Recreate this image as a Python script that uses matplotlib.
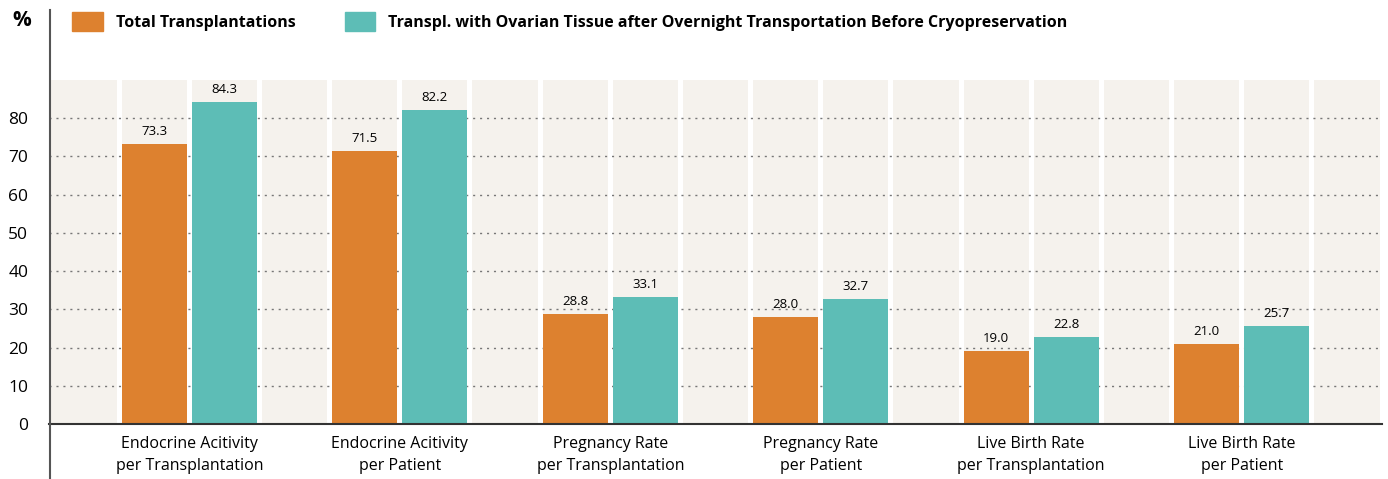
import numpy as np
import matplotlib.pyplot as plt
from matplotlib.patches import Patch
from matplotlib.lines import Line2D

plt.rcParams['font.family'] = ['Open Sans', 'DejaVu Sans']

categories = ["Endocrine Acitivity\nper Transplantation", "Endocrine Acitivity\nper Patient",
              "Pregnancy Rate\nper Transplantation", "Pregnancy Rate\nper Patient",
              "Live Birth Rate\nper Transplantation", "Live Birth Rate\nper Patient"]
total = [73.3, 71.5, 28.8, 28.0, 19.0, 21.0]
overnight = [84.3, 82.2, 33.1, 32.7, 22.8, 25.7]
labels = ["Total Transplantations",
          "Transpl. with Ovarian Tissue after Overnight Transportation Before Cryopreservation"]

orange = "#DD812F"
teal = "#5DBDB6"
beige = "#F5F2ED"

fig = plt.figure(figsize=(13.88, 4.79), dpi=100)
ax = fig.add_axes([49 / 1388, 1 - 424 / 479, 1333 / 1388, 344 / 479])

n_slots = 3 * len(categories) + 1
slots = np.arange(n_slots)
w = 0.93

# background columns
ax.bar(slots, [90] * n_slots, width=w, color=beige, zorder=0)
for y in range(10, 90, 10):
    ax.axhline(y, color="#777777", lw=1, ls=(0, (1.5, 3.5)), zorder=1)

xo = 1 + 3 * np.arange(len(categories))
xt = xo + 1
ax.bar(xo, total, width=w, color=orange, zorder=2)
ax.bar(xt, overnight, width=w, color=teal, zorder=2)
for x, v in zip(xo, total):
    ax.text(x, v + 1.6, f"{v:.1f}", ha="center", va="bottom", fontsize=9.5)
for x, v in zip(xt, overnight):
    ax.text(x, v + 1.6, f"{v:.1f}", ha="center", va="bottom", fontsize=9.5)

ax.set_xlim(-0.5, n_slots - 0.5)
ax.set_ylim(0, 90)
ax.set_yticks(range(0, 90, 10))
ax.tick_params(axis="y", length=0, pad=15, labelsize=12.5)
ax.set_xticks(xo + 0.5)
ax.set_xticklabels(categories, fontsize=11.5, linespacing=1.45)
ax.tick_params(axis="x", length=0, pad=9)
for s in ["top", "right", "left"]:
    ax.spines[s].set_visible(False)
ax.spines["bottom"].set_color("#333333")
ax.spines["bottom"].set_linewidth(1.5)
ax.set_facecolor("white")

# left rule running the full height
fig.add_artist(Line2D([50 / 1388, 50 / 1388], [0, 1 - 10 / 479], color="#555555", lw=1.5))
fig.text(22 / 1388, 1 - 20 / 479, "%", fontsize=15, fontweight="bold", ha="center", va="center")

handles = [Patch(color=orange), Patch(color=teal)]
fig.legend(handles, labels, loc="upper left", bbox_to_anchor=(58 / 1388, 1.004), ncol=2,
           frameon=False, prop={"weight": "bold", "size": 11.5}, handlelength=1.9,
           handleheight=1.4, columnspacing=3.1, handletextpad=0.8)

fig.savefig("out.png", dpi=100)
